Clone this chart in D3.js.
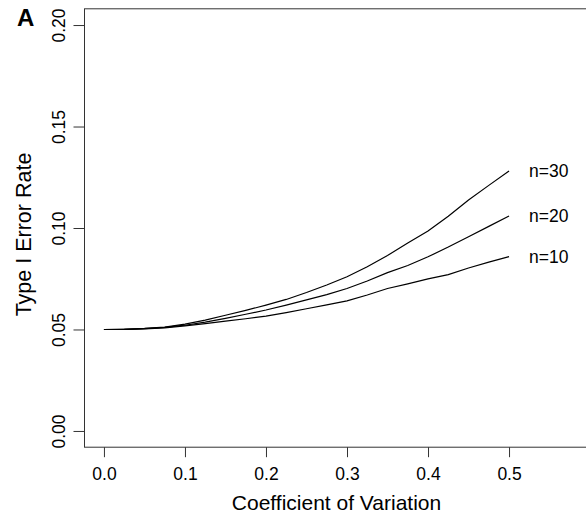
<!DOCTYPE html>
<meta charset="utf-8">
<style>
body { margin: 0; background: #fff; }
svg { font-family: "Liberation Sans", Arial, sans-serif; }
.frame { fill: none; stroke: #333; stroke-width: 1px; }
.tick line { stroke: #333; }
.line { fill: none; stroke: #000; stroke-width: 1.2px; }
</style>
<svg width="586" height="515"></svg>
<script src="https://d3js.org/d3.v7.min.js"></script>
<script>

// coefficient of variation (x) and type I error rate for each sample size
var cv = [0, 0.025, 0.05, 0.075, 0.1, 0.125, 0.15, 0.175, 0.2, 0.225, 0.25,
          0.275, 0.3, 0.325, 0.35, 0.375, 0.4, 0.425, 0.45, 0.475, 0.5];

var n10 = [0.0500, 0.0501, 0.0503, 0.0508, 0.0518, 0.0529, 0.0541, 0.0553, 0.0566, 0.0583, 0.0602,
           0.0621, 0.0641, 0.0670, 0.0702, 0.0725, 0.0749, 0.0770, 0.0803, 0.0832, 0.0859];
var n20 = [0.0500, 0.0501, 0.0504, 0.0510, 0.0521, 0.0536, 0.0555, 0.0575, 0.0596, 0.0620, 0.0646,
           0.0672, 0.0702, 0.0739, 0.0780, 0.0815, 0.0858, 0.0906, 0.0957, 0.1008, 0.1059];
var n30 = [0.0500, 0.0501, 0.0505, 0.0512, 0.0526, 0.0546, 0.0570, 0.0594, 0.0620, 0.0648, 0.0682,
           0.0719, 0.0760, 0.0809, 0.0865, 0.0926, 0.0985, 0.1058, 0.1138, 0.1210, 0.1281];

var seriesNames = ["n=30", "n=20", "n=10"];
var seriesValues = [n30, n20, n10];

var xTicks = [0, 0.1, 0.2, 0.3, 0.4, 0.5],
    yTicks = [0, 0.05, 0.10, 0.15, 0.20];

var svg = d3.select("svg");

// R-style plot region: xlim c(0, 0.6), ylim c(0, 0.2), 4% padding
var x = d3.scaleLinear().domain([-0.024, 0.624]).range([84.5, 609.5]),
    y = d3.scaleLinear().domain([-0.008, 0.208]).range([447.2, 8.8]);

svg.append("rect")
    .attr("class", "frame")
    .attr("x", x(-0.024))
    .attr("y", y(0.208))
    .attr("width", x(0.624) - x(-0.024))
    .attr("height", y(-0.008) - y(0.208));

// x axis
var xAxis = svg.append("g")
    .attr("transform", "translate(0," + y(-0.008) + ")")
    .call(d3.axisBottom(x).tickValues(xTicks).tickSize(10).tickFormat(d3.format(".1f")));
xAxis.select(".domain").remove();
xAxis.selectAll("text")
    .attr("y", 0)
    .attr("dy", 0)
    .attr("transform", "translate(0,33)")
    .style("font-size", "17.5px")
    .style("fill", "#000");

// y axis, labels turned like R's default las = 0
var yAxis = svg.append("g")
    .attr("transform", "translate(" + x(-0.024) + ",0)")
    .call(d3.axisLeft(y).tickValues(yTicks).tickSize(11).tickFormat(d3.format(".2f")));
yAxis.select(".domain").remove();
yAxis.selectAll("text")
    .attr("x", 0)
    .attr("dy", 0)
    .attr("transform", function() { return "translate(-20,0) rotate(-90)"; })
    .style("text-anchor", "middle")
    .style("font-size", "17.5px")
    .style("fill", "#000");

// axis titles
svg.append("text")
    .attr("x", 336.5)
    .attr("y", 510)
    .style("text-anchor", "middle")
    .style("font-size", "21px")
    .text("Coefficient of Variation");

svg.append("text")
    .attr("transform", "translate(31,234.5) rotate(-90)")
    .style("text-anchor", "middle")
    .style("font-size", "21.5px")
    .text("Type I Error Rate");

// panel letter
svg.append("text")
    .attr("x", 17)
    .attr("y", 26)
    .style("font-size", "24px")
    .style("font-weight", "bold")
    .text("A");

var line = d3.line()
    .x(function(d, i) { return x(cv[i]); })
    .y(function(d) { return y(d); });

svg.selectAll(".line")
    .data(seriesValues)
    .enter().append("path")
    .attr("class", "line")
    .attr("d", function(d) { return line(d); });

svg.selectAll(".nlabel")
    .data(seriesValues)
    .enter().append("text")
    .attr("class", "nlabel")
    .attr("x", x(0.5) + 20)
    .attr("y", function(d) { return y(d[d.length - 1]); })
    .attr("dy", "0.35em")
    .style("font-size", "17.5px")
    .text(function(d, i) { return seriesNames[i]; });

</script>
